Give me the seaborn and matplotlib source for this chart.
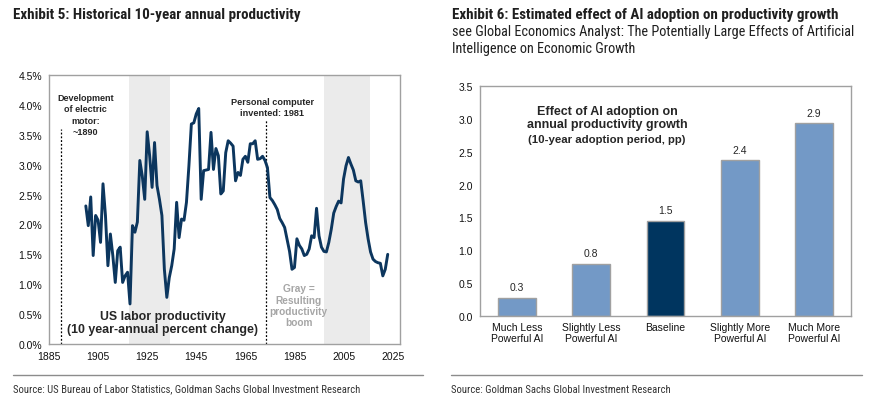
import numpy as np
import matplotlib
matplotlib.use("Agg")
import matplotlib.pyplot as plt
from matplotlib import font_manager
from matplotlib.lines import Line2D
from matplotlib.ticker import FuncFormatter, MultipleLocator
import seaborn as sns

# US labor productivity, 10-year annual % change, 1900-2023
productivity = [
    2.31, 1.98, 2.46, 1.48, 2.15, 2.07, 1.70, 2.68, 2.15, 1.31,
    1.84, 1.48, 1.03, 1.56, 1.62, 1.03, 1.14, 1.20, 0.67, 1.98,
    1.87, 2.04, 3.07, 2.81, 2.42, 3.55, 3.15, 2.62, 3.37, 2.65,
    2.42, 2.15, 1.25, 0.78, 1.11, 1.31, 1.59, 2.37, 1.78, 2.09,
    2.07, 2.37, 2.98, 3.68, 3.70, 3.85, 3.94, 2.42, 2.90, 2.91,
    2.92, 3.54, 2.92, 3.27, 3.15, 2.51, 2.56, 3.20, 3.40, 3.36,
    3.31, 2.73, 2.87, 2.82, 3.09, 3.14, 3.04, 3.35, 3.35, 3.40,
    3.09, 3.10, 3.14, 3.07, 2.95, 2.45, 2.40, 2.33, 2.25, 2.10,
    2.03, 1.95, 1.75, 1.55, 1.25, 1.28, 1.76, 1.65, 1.59, 1.48,
    1.50, 1.59, 1.81, 1.78, 2.27, 1.81, 1.62, 1.55, 1.54, 1.70,
    1.92, 2.19, 2.30, 2.39, 2.36, 2.76, 2.98, 3.12, 3.01, 2.91,
    2.73, 2.71, 2.73, 2.39, 2.03, 1.76, 1.54, 1.42, 1.38, 1.36,
    1.35, 1.14, 1.25, 1.50,
]
years = list(range(1900, 1900 + len(productivity)))
boom_spans = [(1917.5, 1934.5), (1997, 2015.7)]
events = [1890, 1973.5]

scenarios = ["Much Less\nPowerful AI", "Slightly Less\nPowerful AI", "Baseline",
             "Slightly More\nPowerful AI", "Much More\nPowerful AI"]
ai_effect = [0.28, 0.80, 1.45, 2.37, 2.93]
ai_labels = ["0.3", "0.8", "1.5", "2.4", "2.9"]

NAVY = "#0C365E"
LIGHT = "#7399C6"
DARK_BAR = "#00355F"
FRAME = "#A0A0A0"


def pick_font(names):
    for n in names:
        try:
            font_manager.findfont(font_manager.FontProperties(family=n), fallback_to_default=False)
            return n
        except ValueError:
            pass
    return "DejaVu Sans"


sns.set_theme(style="white")
plt.rcParams["font.family"] = ["Liberation Sans", "DejaVu Sans"]
narrow = pick_font(["Liberation Sans Narrow", "Roboto Condensed", "DejaVu Sans Condensed", "Liberation Sans"])

fig = plt.figure(figsize=(8.92, 4.06), dpi=100)
W, H = 892, 406


def box(l, t, r, b):
    return [l / W, 1 - b / H, (r - l) / W, (b - t) / H]


# ---- Exhibit 5 ----
ax1 = fig.add_axes(box(49, 76, 400, 345))
for a, b in boom_spans:
    ax1.axvspan(a, b, color="#EBEBEB", lw=0, zorder=0)
sns.lineplot(x=years, y=productivity, ax=ax1, color=NAVY, linewidth=2.1, zorder=3)
ax1.vlines(events[0], 0, 3.6, colors="black", linestyles=(0, (1.5, 1.5)), lw=0.9)
ax1.vlines(events[1], 0, 3.75, colors="black", linestyles=(0, (1.5, 1.5)), lw=0.9)

ax1.set_xlim(1885, 2028)
ax1.set_ylim(0, 4.5)
ax1.set_xticks(range(1885, 2026, 20))
ax1.yaxis.set_major_locator(MultipleLocator(0.5))
ax1.yaxis.set_major_formatter(FuncFormatter(lambda v, p: f"{v:.1f}%"))
ax1.set_xlabel("")
ax1.set_ylabel("")

ax1.text(1900, 3.84, "Development\nof electric\nmotor:\n~1890", ha="center", va="center",
         fontsize=6.5, fontweight="bold", linespacing=1.3)
ax1.text(1976, 3.96, "Personal computer\ninvented: 1981", ha="center", va="center",
         fontsize=6.6, fontweight="bold", linespacing=1.3)
ax1.text(1931.3, 0.36, "US labor productivity\n(10 year-annual percent change)", ha="center",
         va="center", fontsize=8.9, fontweight="bold", linespacing=1.1)
ax1.text(1986.7, 0.65, "Gray =\nResulting\nproductivity\nboom", ha="center", va="center",
         fontsize=7.3, fontweight="bold", color="#A6A6A6", linespacing=1.15)

# ---- Exhibit 6 ----
ax2 = fig.add_axes(box(480, 86.7, 851, 317.3))
sns.barplot(x=scenarios, y=ai_effect, hue=scenarios, palette=[LIGHT, LIGHT, DARK_BAR, LIGHT, LIGHT],
            legend=False, width=0.51, edgecolor=FRAME, linewidth=1, saturation=1, ax=ax2)
for cont, lab in zip(ax2.containers, ai_labels):
    ax2.bar_label(cont, labels=[lab], padding=4, fontsize=7.5)
ax2.set_xlim(-0.5, 4.5)
ax2.set_ylim(0, 3.5)
ax2.yaxis.set_major_locator(MultipleLocator(0.5))
ax2.yaxis.set_major_formatter(FuncFormatter(lambda v, p: f"{v:.1f}"))
ax2.set_xlabel("")
ax2.set_ylabel("")
ax2.text(1.21, 3.02, "Effect of AI adoption on\nannual productivity growth", ha="center", va="center",
         fontsize=9, fontweight="bold", linespacing=1.1)
ax2.text(1.21, 2.69, "(10-year adoption period, pp)", ha="center", va="center",
         fontsize=8.2, fontweight="bold")

for ax in (ax1, ax2):
    for s in ax.spines.values():
        s.set_visible(True)
        s.set_color(FRAME)
        s.set_linewidth(1)
    ax.tick_params(axis="both", labelsize=7.5, colors="#111111", length=3, width=0.8,
                   direction="out", pad=2)
    ax.tick_params(axis="both", color=FRAME)
    ax.grid(False)
ax2.tick_params(axis="x", length=0, pad=4)

# ---- titles and sources ----
fig.text(13 / W, 1 - 15 / H, "Exhibit 5: Historical 10-year annual productivity", family=narrow,
         fontweight="bold", fontsize=10.8, color="#1F1F1F", va="center")
fig.text(452 / W, 1 - 15 / H, "Exhibit 6: Estimated effect of AI adoption on productivity growth",
         family=narrow, fontweight="bold", fontsize=10.8, color="#1F1F1F", va="center")
fig.text(452 / W, 1 - 40.5 / H,
         "see Global Economics Analyst: The Potentially Large Effects of Artificial\n"
         "Intelligence on Economic Growth", family=narrow, fontsize=10.3, color="#1F1F1F",
         va="center", linespacing=1.3)

fig.add_artist(Line2D([13 / W, 423 / W], [1 - 376 / H] * 2, color="#8C8C8C", lw=1))
fig.add_artist(Line2D([451 / W, 862 / W], [1 - 376 / H] * 2, color="#8C8C8C", lw=1))
fig.text(13 / W, 1 - 390 / H,
         "Source: US Bureau of Labor Statistics, Goldman Sachs Global Investment Research",
         family=narrow, fontsize=7.7, color="#333333", va="center")
fig.text(451 / W, 1 - 390 / H, "Source: Goldman Sachs Global Investment Research",
         family=narrow, fontsize=7.7, color="#333333", va="center")

fig.savefig("out.png", dpi=100)
